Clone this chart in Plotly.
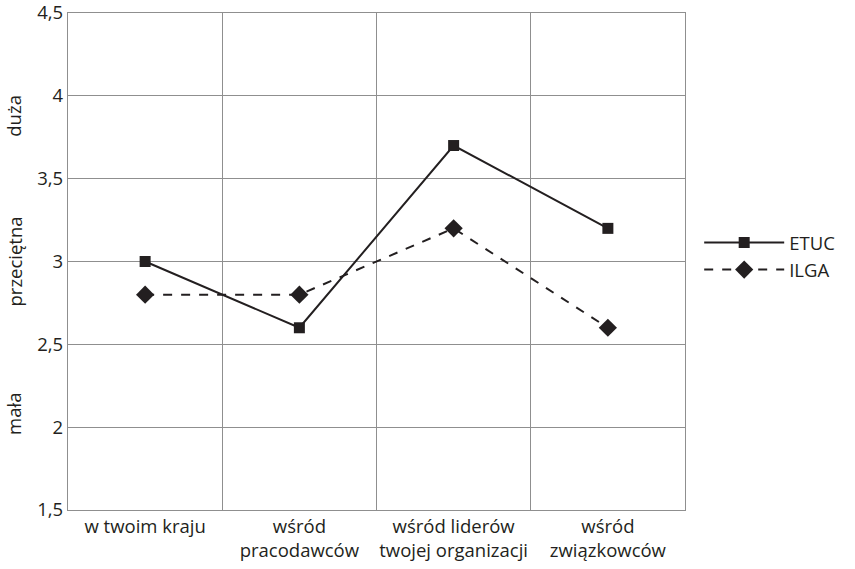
import plotly.graph_objects as go

categories = ["w twoim kraju", "wśród<br>pracodawców", "wśród liderów<br>twojej organizacji", "wśród<br>związkowców"]
etuc = [3.0, 2.6, 3.7, 3.2]
ilga = [2.8, 2.8, 3.2, 2.6]
y_ticks = [1.5, 2, 2.5, 3, 3.5, 4, 4.5]
y_tick_labels = ["1,5", "2", "2,5", "3", "3,5", "4", "4,5"]
side_labels = ["duża", "przeciętna", "mała"]
side_label_pos = [3.88, 3.0, 2.08]

ink = "#231f20"
grid = "#8f8f8f"
font_family = "Open Sans, Noto Sans, sans-serif"
fs = 18.5

fig = go.Figure()
fig.add_trace(go.Scatter(
    x=categories, y=etuc, name="ETUC", mode="lines+markers",
    line=dict(color=ink, width=2),
    marker=dict(symbol="square", size=11, color=ink),
))
fig.add_trace(go.Scatter(
    x=categories, y=ilga, name="ILGA", mode="lines+markers",
    line=dict(color=ink, width=2, dash="dash"),
    marker=dict(symbol="diamond", size=14, color=ink),
))

for txt, pos in zip(side_labels, side_label_pos):
    fig.add_annotation(
        x=0, xref="paper", xanchor="center", xshift=-54, y=pos, yref="y",
        yanchor="middle", text=txt, textangle=-90, showarrow=False,
        font=dict(family=font_family, size=fs, color=ink),
    )

fig.update_layout(
    width=855, height=569,
    margin=dict(l=68, r=170, t=13, b=59, autoexpand=False),
    paper_bgcolor="white", plot_bgcolor="white",
    font=dict(family=font_family, size=fs, color=ink),
    showlegend=True,
    legend=dict(
        x=1.023, xanchor="left", y=0.51, yanchor="middle",
        font=dict(family=font_family, size=fs, color=ink),
        itemwidth=80, tracegroupgap=0,
    ),
    xaxis=dict(
        type="category", tickson="boundaries", showgrid=True,
        gridcolor=grid, gridwidth=1.3, showline=True, linecolor=grid,
        linewidth=1.3, mirror=True, ticks="", ticklen=0, tickangle=0,
        tickfont=dict(size=fs, color=ink), range=[-0.5, 3.5],
    ),
    yaxis=dict(
        range=[1.5, 4.5], tickvals=y_ticks, ticktext=y_tick_labels,
        showgrid=True, gridcolor=grid, gridwidth=1.3, showline=True,
        linecolor=grid, linewidth=1.3, mirror=True, ticks="", zeroline=False,
        tickfont=dict(size=fs, color=ink), ticklabeloverflow="allow",
    ),
)

fig.write_html("out.html", config={"displayModeBar": False},
               post_script="document.body.style.margin='0';")
